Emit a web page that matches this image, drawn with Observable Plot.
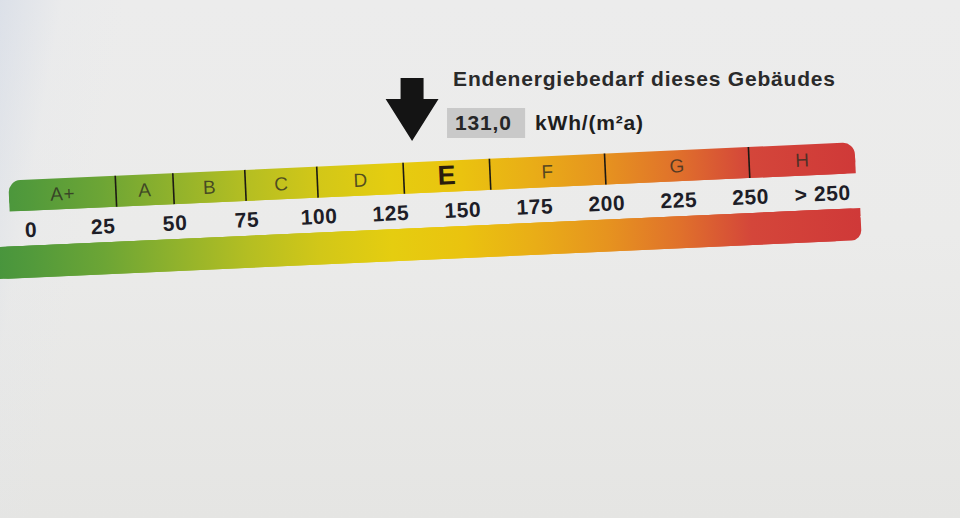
<!DOCTYPE html>
<html>
<head>
<meta charset="utf-8">
<script src="https://cdn.jsdelivr.net/npm/d3@7"></script>
<script src="https://cdn.jsdelivr.net/npm/@observablehq/plot@0.6"></script>
<style>
  html, body { margin: 0; padding: 0; }
  body {
    width: 960px; height: 518px; overflow: hidden; position: relative;
    font-family: "Liberation Sans", Arial, sans-serif;
    background:
      linear-gradient(100deg, rgba(200,210,228,0.45) 0%, rgba(225,229,236,0.15) 6%, rgba(236,236,236,0) 12%),
      linear-gradient(180deg, #ececec 0%, #ebebea 45%, #e5e5e3 100%);
  }
  #header { position: absolute; left: 0; top: 0; }
  #scale { position: absolute; left: 0; top: 140px; transform: rotate(-2.6deg); transform-origin: 420px 70px; }
  svg { overflow: visible; }
</style>
</head>
<body>
<div id="header"></div>
<div id="scale"></div>
<script>
// ---- data ----
const classes     = ["A+", "A", "B", "C", "D", "E", "F", "G", "H"];
const classLower  = [0, 30, 50, 75, 100, 130, 160, 200, 250];
const classUpper  = [30, 50, 75, 100, 130, 160, 200, 250, Infinity];
const tickValues  = [0, 25, 50, 75, 100, 125, 150, 175, 200, 225, 250, 275];
const tickLabels  = ["0", "25", "50", "75", "100", "125", "150", "175", "200", "225", "250", "> 250"];
const demand      = 131.0;
const demandLabel = "131,0";
const unitLabel   = "kWh/(m²a)";
const titleText   = "Endenergiebedarf dieses Gebäudes";
const currentClass = "E";
// colour stops of the scale (value -> colour)
const stopValues  = [-12, 0, 25, 50, 75, 100, 125, 150, 175, 200, 225, 250, 290];
const stopColors  = ["#48953d", "#529a3b", "#6ca535", "#90b22c", "#b4be22", "#d2c718", "#e5cd10",
                     "#eac30f", "#e9ad17", "#e6931f", "#e0712b", "#d4463a", "#cf3838"];

// ---- layout (not data) ----
const X0 = -7, X1 = 287;            // visible ends of the scale
const XR = [10, 857];               // pixel range of the scale
const L = { bandTop: 22, bandBottom: 53, label: 72, gradTop: 88, gradBottom: 120,
            title: 79, arrow: 109, value: 123, boxTop: 108, boxBottom: 138 };

const classRows = classes.map((c, i) => ({
  cls: c,
  lo: i === 0 ? X0 : classLower[i],
  hi: Math.min(classUpper[i], X1)
}));
const ticks = tickValues.map((v, i) => ({ v, label: tickLabels[i] }));

// ---- scale plot ----
const one = [{}];
const scalePlot = Plot.plot({
  width: 960, height: 150, margin: 0,
  x: { domain: [X0, X1], range: XR, axis: null },
  y: { domain: [0, 150], range: [0, 150], axis: null },
  marks: [
    // top band (rounded top corners)
    Plot.rect(one, { x1: () => X0, x2: () => X1, y1: () => L.bandTop, y2: () => L.bandBottom, rx: 12, fill: "url(#energyGrad)" }),
    Plot.rect(one, { x1: () => X0, x2: () => X1, y1: () => (L.bandTop + L.bandBottom) / 2, y2: () => L.bandBottom, fill: "url(#energyGrad)" }),
    // class separators
    Plot.ruleX(classLower.slice(1), { y1: () => L.bandTop, y2: () => L.bandBottom, stroke: "#1c1a14", strokeWidth: 1.6 }),
    // class letters
    Plot.text(classRows.filter(d => d.cls !== currentClass), {
      x: d => (d.lo + d.hi) / 2, y: () => (L.bandTop + L.bandBottom) / 2, text: "cls",
      fontSize: 19, fill: "#2e2c22", fillOpacity: 0.78, fontFamily: "Liberation Sans"
    }),
    Plot.text(classRows.filter(d => d.cls === currentClass), {
      x: d => (d.lo + d.hi) / 2, y: () => (L.bandTop + L.bandBottom) / 2 - 1, text: "cls",
      fontSize: 27, fontWeight: "bold", fill: "#2a1c0c", fontFamily: "Liberation Sans"
    }),
    // tick labels
    Plot.text(ticks, {
      x: "v", y: () => L.label, text: "label",
      fontSize: 21, fontWeight: "bold", fill: "#1d1d27", fontFamily: "Liberation Sans"
    }),
    // lower gradient band (rounded right corners)
    Plot.rect(one, { x1: () => -12, x2: () => X1 + 1, y1: () => L.gradTop, y2: () => L.gradBottom, rx: 10, fill: "url(#energyGrad)" }),
    Plot.rect(one, { x1: () => -12, x2: () => X1 - 8, y1: () => L.gradTop, y2: () => L.gradBottom, fill: "url(#energyGrad)" }),
    Plot.rect(one, { x1: () => -12, x2: () => X1 + 1, y1: () => L.gradTop, y2: () => L.gradTop + 8, fill: "url(#energyGrad)" })
  ]
});

// gradient defined in user space from the x scale
const xs = scalePlot.scale("x");
const gx0 = xs.apply(stopValues[0]), gx1 = xs.apply(stopValues[stopValues.length - 1]);
const defs = d3.select(scalePlot).insert("defs", ":first-child");
const grad = defs.append("linearGradient")
  .attr("id", "energyGrad").attr("gradientUnits", "userSpaceOnUse")
  .attr("x1", gx0).attr("x2", gx1).attr("y1", 0).attr("y2", 0);
stopValues.forEach((v, i) => {
  grad.append("stop")
    .attr("offset", (xs.apply(v) - gx0) / (gx1 - gx0))
    .attr("stop-color", stopColors[i]);
});
scalePlot.style.background = "transparent";
d3.select(scalePlot).selectAll("text").style("letter-spacing", "0.6px");
document.getElementById("scale").appendChild(scalePlot);

// ---- header plot (arrow + value) ----
const arrowSymbol = {
  draw(ctx, size) {
    const r = Math.sqrt(size / Math.PI);
    const sw = 0.365 * r, hw = 0.84 * r, hy = -0.33 * r;
    ctx.moveTo(-sw, -r);
    ctx.lineTo(sw, -r);
    ctx.lineTo(sw, hy);
    ctx.lineTo(hw, hy);
    ctx.lineTo(0, r);
    ctx.lineTo(-hw, hy);
    ctx.lineTo(-sw, hy);
    ctx.closePath();
  }
};

const headerPlot = Plot.plot({
  width: 960, height: 150, margin: 0,
  x: { domain: [X0, X1], range: XR, axis: null },
  y: { domain: [0, 150], range: [0, 150], axis: null },
  marks: [
    Plot.dot([demand], { x: d => d, y: () => L.arrow, r: 31.5, symbol: arrowSymbol, fill: "#141414", stroke: "none", dx: 4 }),
    Plot.rect([demand], { x1: d => d + 13.7, x2: d => d + 40.8, y1: () => L.boxTop, y2: () => L.boxBottom, fill: "#c9c9c9" }),
    Plot.text([demandLabel], { x: () => demand, y: () => L.value, text: d => d, dx: 47, textAnchor: "start",
      fontSize: 21, fontWeight: "bold", fill: "#262626", fontFamily: "Liberation Sans" }),
    Plot.text([unitLabel], { x: () => demand, y: () => L.value, text: d => d, dx: 127, textAnchor: "start",
      fontSize: 21, fontWeight: "bold", fill: "#1e1e1e", fontFamily: "Liberation Sans" }),
    Plot.text([titleText], { x: () => demand, y: () => L.title, text: d => d, dx: 45, textAnchor: "start",
      fontSize: 21, fontWeight: "bold", fill: "#2a2a2a", fontFamily: "Liberation Sans" })
  ]
});
headerPlot.style.background = "transparent";
d3.select(headerPlot).selectAll("text").style("letter-spacing", "0.8px");
document.getElementById("header").appendChild(headerPlot);
</script>
</body>
</html>
